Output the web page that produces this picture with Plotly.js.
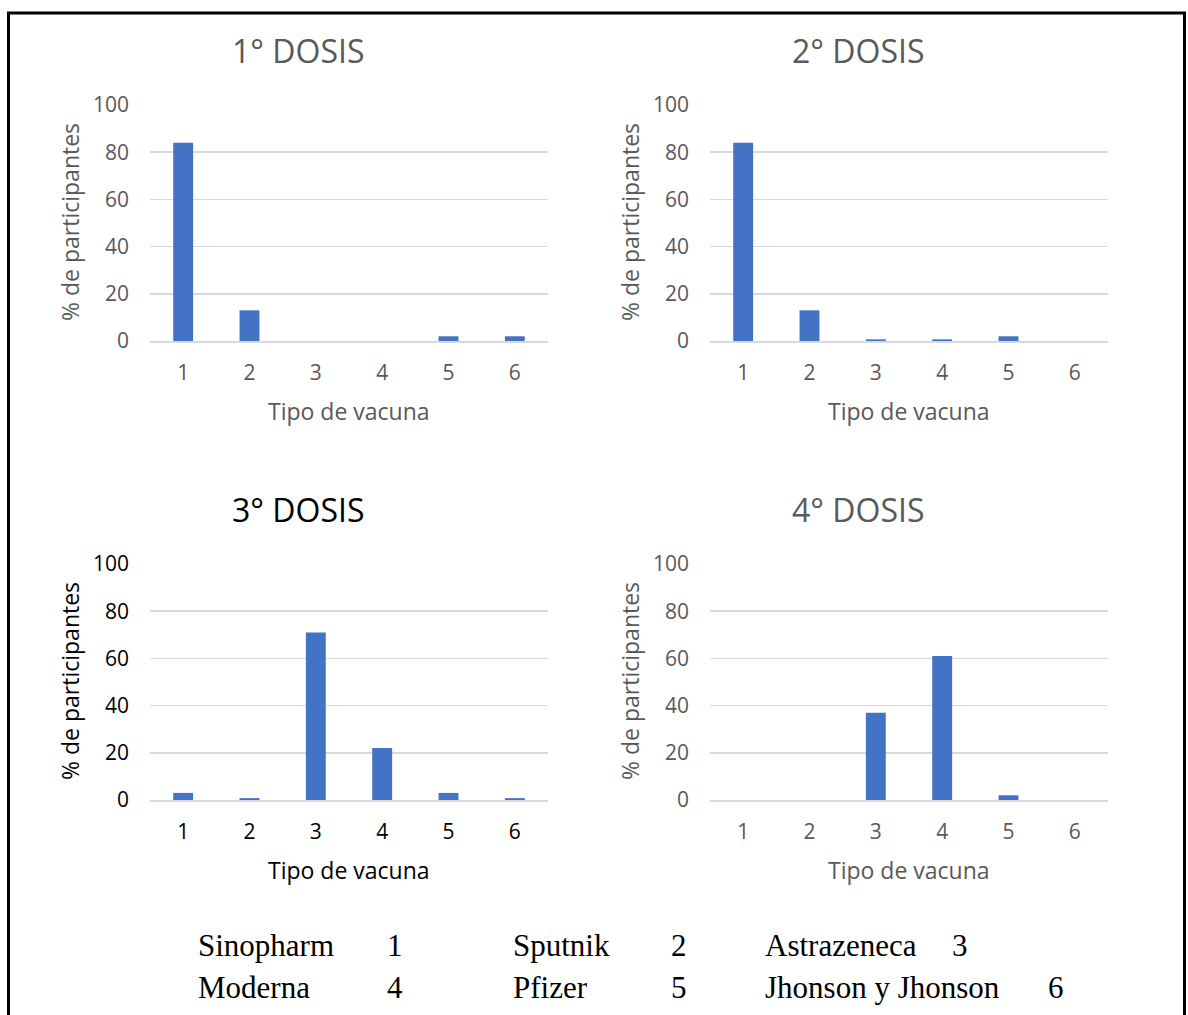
<!DOCTYPE html>
<html>
<head>
<meta charset="utf-8">
<script src="https://cdn.plot.ly/plotly-3.0.1.min.js"></script>
<style>
  html, body { margin: 0; padding: 0; background: #ffffff; }
  #chart { width: 1188px; height: 1015px; }
</style>
</head>
<body>
<div id="chart"></div>
<script>
// ---- Data ----
const categories = ["1", "2", "3", "4", "5", "6"];
const dosis1 = [84, 13, 0, 0, 2, 2];
const dosis2 = [84, 13, 0.7, 0.7, 2, 0];
const dosis3 = [3, 0.8, 71, 22, 3, 0.8];
const dosis4 = [0, 0, 37, 61, 2, 0];
const panelTitles = ["1° DOSIS", "2° DOSIS", "3° DOSIS", "4° DOSIS"];
const yTitle = "% de participantes";
const xTitle = "Tipo de vacuna";
const vaccineNames = ["Sinopharm", "Sputnik", "Astrazeneca", "Moderna", "Pfizer", "Jhonson y Jhonson"];
const vaccineCodes = ["1", "2", "3", "4", "5", "6"];

// ---- Layout helpers ----
const W = 1188, H = 1015;
const px = x => x / W;
const py = y => 1 - y / H;
const GREY = "#595959";
const FONT = "Open Sans, sans-serif";
const BAR = "#4472C4";

const series = [dosis1, dosis2, dosis3, dosis4];
const panels = [
  {x0: 150, x1: 548, y0: 105, y1: 341, color: GREY},
  {x0: 710, x1: 1108, y0: 105, y1: 341, color: GREY},
  {x0: 150, x1: 548, y0: 564, y1: 800, color: "#000000"},
  {x0: 710, x1: 1108, y0: 564, y1: 800, color: GREY}
];

const data = [];
const layout = {
  width: W, height: H,
  margin: {l: 0, r: 0, t: 0, b: 0},
  paper_bgcolor: "#ffffff",
  plot_bgcolor: "#ffffff",
  showlegend: false,
  font: {family: FONT, color: GREY},
  annotations: [],
  shapes: []
};

panels.forEach((p, i) => {
  const n = i + 1;
  const xa = n === 1 ? "x" : "x" + n;
  const ya = n === 1 ? "y" : "y" + n;
  data.push({
    type: "bar",
    x: categories,
    y: series[i],
    xaxis: xa, yaxis: ya,
    width: 0.3,
    marker: {color: BAR, line: {width: 0}},
    hoverinfo: "x+y"
  });
  const xKey = n === 1 ? "xaxis" : "xaxis" + n;
  const yKey = n === 1 ? "yaxis" : "yaxis" + n;
  layout[xKey] = {
    domain: [px(p.x0), px(p.x1)],
    anchor: ya,
    type: "category",
    range: [-0.5, 5.5],
    showgrid: false,
    showline: true,
    linecolor: "#d9d9d9",
    linewidth: 1.5,
    ticks: "",
    ticklabelstandoff: 12,
    tickfont: {family: FONT, size: 21, color: p.color},
    fixedrange: true
  };
  layout[yKey] = {
    domain: [py(p.y1), py(p.y0)],
    anchor: xa,
    range: [0, 100],
    dtick: 20,
    showgrid: true,
    gridcolor: "#d9d9d9",
    gridwidth: 1.5,
    zeroline: false,
    showline: false,
    ticks: "",
    ticklabelstandoff: 20,
    tickfont: {family: FONT, size: 21, color: p.color},
    fixedrange: true
  };
  // Panel title
  layout.annotations.push({
    xref: "paper", yref: "paper",
    x: px(p.x0 + 148), y: py(p.y0 - 55),
    text: panelTitles[i], showarrow: false,
    xanchor: "center", yanchor: "middle",
    font: {family: FONT, size: 32, color: p.color}
  });
  // Y axis title
  layout.annotations.push({
    xref: "paper", yref: "paper",
    x: px(p.x0 - 80), y: py((p.y0 + p.y1) / 2 - 1),
    text: yTitle, showarrow: false, textangle: -90,
    xanchor: "center", yanchor: "middle",
    font: {family: FONT, size: 23, color: p.color}
  });
  // X axis title
  layout.annotations.push({
    xref: "paper", yref: "paper",
    x: px((p.x0 + p.x1) / 2), y: py(p.y1 + 70),
    text: xTitle, showarrow: false,
    xanchor: "center", yanchor: "middle",
    font: {family: FONT, size: 23, color: p.color}
  });
});

// Legend key text (vaccine names and codes)
const nameX = [196, 511, 763, 196, 511, 763];
const codeX = [385, 669, 950, 385, 669, 1046];
const rowY = [945, 945, 945, 987, 987, 987];
const SERIF = "Liberation Serif, Times New Roman, serif";
vaccineNames.forEach((name, i) => {
  layout.annotations.push({
    xref: "paper", yref: "paper",
    x: px(nameX[i]), y: py(rowY[i]),
    text: name, showarrow: false,
    xanchor: "left", yanchor: "middle",
    font: {family: SERIF, size: 31, color: "#000000"}
  });
  layout.annotations.push({
    xref: "paper", yref: "paper",
    x: px(codeX[i]), y: py(rowY[i]),
    text: vaccineCodes[i], showarrow: false,
    xanchor: "left", yanchor: "middle",
    font: {family: SERIF, size: 31, color: "#000000"}
  });
});

// Outer border
layout.shapes.push({
  type: "rect", xref: "paper", yref: "paper",
  x0: px(8.5), x1: px(1184.5), y0: py(1030), y1: py(13),
  line: {color: "#000000", width: 3},
  fillcolor: "rgba(0,0,0,0)",
  layer: "above"
});

Plotly.newPlot("chart", data, layout, {displayModeBar: false, staticPlot: true});
</script>
</body>
</html>
